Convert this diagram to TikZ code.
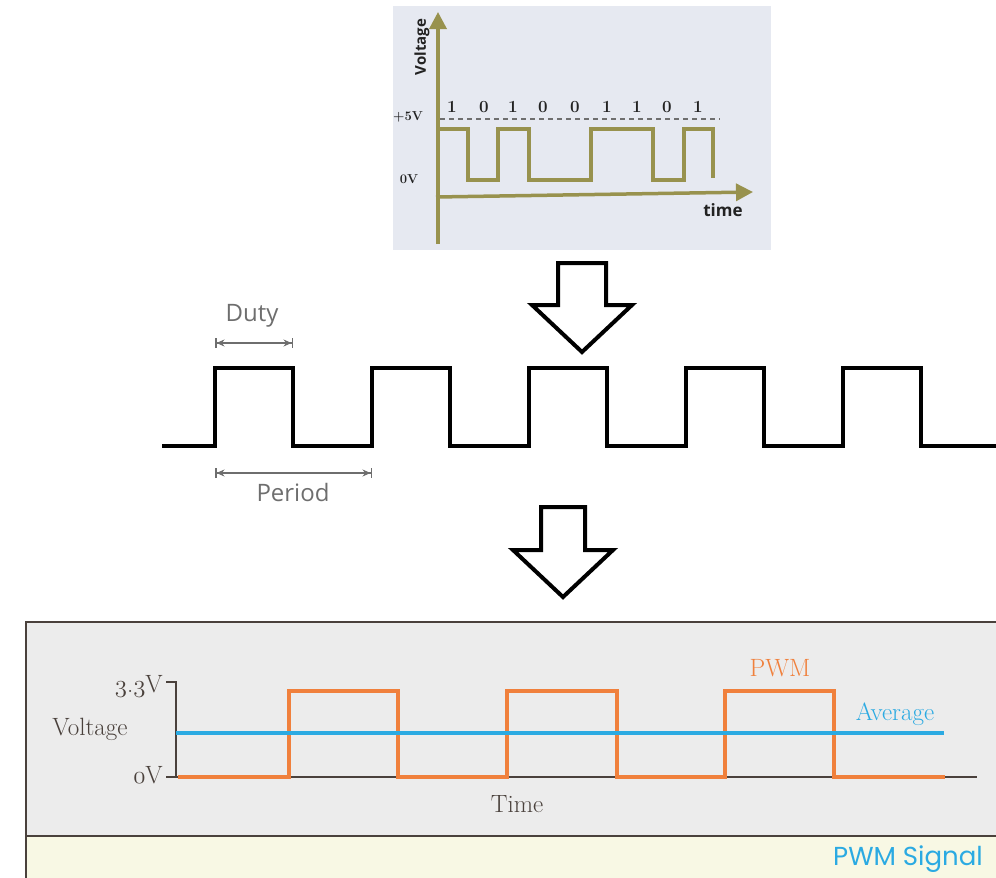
\documentclass[tikz,border=0pt]{standalone}
\usepackage{fontspec}
\newfontfamily\osans{Open Sans}
\newfontfamily\popp{Poppins}
\usetikzlibrary{arrows.meta}
\newcommand\osn[1]{{\usefont{OML}{cmm}{m}{it}#1}}
\definecolor{topbg}{RGB}{230,233,241}
\definecolor{olv}{RGB}{152,146,78}
\definecolor{pwmorange}{RGB}{240,128,60}
\definecolor{avgblue}{RGB}{43,170,226}
\definecolor{axisdark}{RGB}{74,65,60}
\definecolor{panelgray}{RGB}{236,236,236}
\definecolor{cream}{RGB}{248,248,228}
\definecolor{dimc}{RGB}{110,110,110}
\definecolor{txtdark}{RGB}{34,34,34}
\tikzset{
  oliveaxis/.style={olv, line width=3.5, -{Triangle[width=17,length=17]}},
  olivesig/.style={olv, line width=3.5, line join=miter},
  digit/.style={font=\fontsize{17}{17}\selectfont\bfseries, text=txtdark, inner sep=0},
  blocksig/.style={black, line width=4, line join=miter},
  dimline/.style={dimc, line width=1.5, {Bar[width=10]Stealth[length=8,width=7]}-{Stealth[length=8,width=7]Bar[width=10]}},
  dimtext/.style={font=\osans\fontsize{24}{24}\selectfont, text=dimc, inner sep=0},
  hollowarrow/.style={black, line width=4, line join=miter, fill=white},
  axt/.style={font=\fontsize{25}{25}\selectfont, text=axisdark, inner sep=0},
  frame/.style={axisdark, line width=2},
}
\begin{document}
\begin{tikzpicture}[x=1pt,y=-1pt]
\useasboundingbox (0,0) rectangle (996,878);
% ---------- top panel ----------
\fill[topbg] (393,6) rectangle (771,250);
\draw[dashed, dimc, line width=1.2, dash pattern=on 5 off 4] (440,119) -- (720,119);
\coordinate (yb) at (438,244);
\coordinate (yt) at (438,12);
\coordinate (xl) at (436,197);
\coordinate (xr) at (753,192);
\draw[oliveaxis] (yb) -- (yt);
\draw[oliveaxis] (xl) -- (xr);
\draw[olivesig] (440,129) -- (468,129) -- (468,180) -- (498,180) -- (498,129) -- (529,129) -- (529,180) -- (591,180) -- (591,129) -- (653,129) -- (653,180) -- (684,180) -- (684,129) -- (713,129) -- (713,178);
\node[rotate=90, font=\osans\bfseries\fontsize{15}{15}\selectfont, text=txtdark, inner sep=0] (vlab) at (422,47) {Voltage};
\node[font=\osans\bfseries\fontsize{17}{17}\selectfont, text=txtdark, inner sep=0] (tlab) at (723,210) {time};
\node[font=\bfseries\fontsize{13}{13}\selectfont, text=txtdark, inner sep=0] (p5) at (408,117) {+5V};
\node[font=\bfseries\fontsize{13}{13}\selectfont, text=txtdark, inner sep=0] (z0) at (409,179) {0V};
\foreach \v/\x [count=\i] in {1/452,0/484,1/513,0/543,0/575,1/607,1/637,0/667,1/698}
  \node[digit] (d\i) at (\x,107) {\v};
% ---------- arrow 1 ----------
\draw[hollowarrow] (558,263) -- (606,263) -- (606,305) -- (632,305) -- (582,352) -- (532,305) -- (558,305) -- cycle;
% ---------- middle square wave ----------
\draw[blocksig] (162,446) -- (215,446) -- (215,368) -- (293,368) -- (293,446) -- (372,446) -- (372,368) -- (450,368) -- (450,446) -- (529,446) -- (529,368) -- (607,368) -- (607,446) -- (686,446) -- (686,368) -- (764,368) -- (764,446) -- (843,446) -- (843,368) -- (921,368) -- (921,446) -- (996,446);
\coordinate (da) at (215,343);
\coordinate (db) at (293,343);
\coordinate (pa) at (215,473);
\coordinate (pb) at (372,473);
\draw[dimline] (da) -- (db);
\draw[dimline] (pa) -- (pb);
\node[dimtext] (duty) at (252,316) {Duty};
\node[dimtext] (period) at (293,492) {Period};
% ---------- arrow 2 ----------
\draw[hollowarrow] (541,507) -- (585,507) -- (585,550) -- (613,550) -- (563,597) -- (513,550) -- (541,550) -- cycle;
% ---------- bottom panel ----------
\fill[panelgray] (26,622) rectangle (996,836);
\fill[cream] (26,836) rectangle (996,878);
\draw[frame] (996,622) -- (26,622) -- (26,878);
\draw[frame] (26,836) -- (996,836);
\draw[axisdark, line width=2.5] (166,682) -- (176,682) -- (176,777) -- (977,777);
\draw[axisdark, line width=2.5] (166,777) -- (176,777);
\draw[pwmorange, line width=4.5, line join=miter] (178,777) -- (289,777) -- (289,691) -- (398,691) -- (398,777) -- (507,777) -- (507,691) -- (617,691) -- (617,777) -- (725,777) -- (725,691) -- (834,691) -- (834,777) -- (945,777);
\draw[avgblue, line width=3.5] (176,733) -- (944,733);
\node[axt, anchor=east] (v33) at (163,686) {\osn{3}.\osn{3}V};
\node[axt, anchor=east] (v0) at (163,775) {\osn{0}V};
\node[axt] (volt) at (90,729) {Voltage};
\node[axt] (time) at (517,804) {Time};
\node[axt, text=pwmorange] (pwm) at (780,668) {PWM};
\node[axt, text=avgblue] (avg) at (895,714) {Average};
\node[font=\popp\fontsize{26}{26}\selectfont, text=avgblue, inner sep=0, anchor=east] (sig) at (983,859) {PWM Signal};
\end{tikzpicture}
\end{document}
